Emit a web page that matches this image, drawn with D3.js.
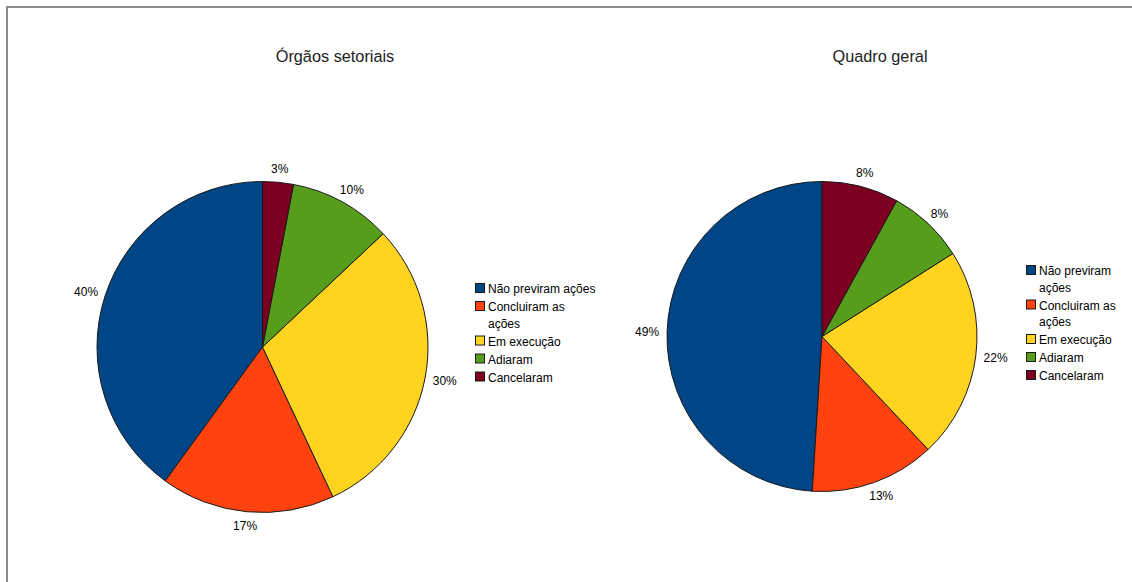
<!DOCTYPE html>
<html>
<head>
<meta charset="utf-8">
<script src="https://cdn.jsdelivr.net/npm/d3@7/dist/d3.min.js"></script>
<style>
  html, body { margin: 0; padding: 0; background: #fff; }
  svg { display: block; }
  text { font-family: "Liberation Sans", Arial, sans-serif; fill: #000; }
</style>
</head>
<body>
<svg id="chart" width="1132" height="582"></svg>
<script>
// ---- data ----
const categories = ["Não previram ações", "Concluiram as ações", "Em execução", "Adiaram", "Cancelaram"];
const colors = ["#004586", "#ff420e", "#ffd320", "#579d1c", "#7e0021"];
const titles = ["Órgãos setoriais", "Quadro geral"];
const valuesSetoriais = [40, 17, 30, 10, 3];
const valuesGeral = [49, 13, 22, 8, 8];
const legendLinesSetoriais = [["Não previram ações"], ["Concluiram as", "ações"], ["Em execução"], ["Adiaram"], ["Cancelaram"]];
const legendLinesGeral = [["Não previram", "ações"], ["Concluiram as", "ações"], ["Em execução"], ["Adiaram"], ["Cancelaram"]];

const svg = d3.select("#chart");

// frame (top and left border)
svg.append("line").attr("x1", 6).attr("y1", 7).attr("x2", 1132).attr("y2", 7)
  .attr("stroke", "#8a8a8a").attr("stroke-width", 2);
svg.append("line").attr("x1", 7).attr("y1", 6).attr("x2", 7).attr("y2", 582)
  .attr("stroke", "#8a8a8a").attr("stroke-width", 2);

const charts = [
  { title: titles[0], values: valuesSetoriais, legend: legendLinesSetoriais,
    cx: 262.5, cy: 347, r: 165.5, titleX: 335, legendX: 475, legendY: 289 },
  { title: titles[1], values: valuesGeral, legend: legendLinesGeral,
    cx: 822, cy: 336.5, r: 155, titleX: 880, legendX: 1026, legendY: 271 }
];

charts.forEach(c => {
  const g = svg.append("g");
  g.append("text").attr("x", c.titleX).attr("y", 62).attr("text-anchor", "middle")
    .attr("font-size", 16.3).style("fill", "#222").text(c.title);

  // counterclockwise from 12 o'clock
  const pie = d3.pie().sort(null).startAngle(0).endAngle(-2 * Math.PI);
  const arcs = pie(c.values);
  const arc = d3.arc().innerRadius(0).outerRadius(c.r);
  const pg = g.append("g").attr("transform", `translate(${c.cx},${c.cy})`);
  pg.selectAll("path").data(arcs).join("path")
    .attr("d", arc)
    .attr("fill", (d, i) => colors[i])
    .attr("stroke", "#1a1a1a").attr("stroke-width", 1).attr("stroke-linejoin", "round");

  // labels
  const total = d3.sum(c.values);
  arcs.forEach((d, i) => {
    const a = (d.startAngle + d.endAngle) / 2;
    const pr = c.r + 8;
    const s = Math.sin(a), co = Math.cos(a);
    const txt = Math.round(c.values[i] / total * 100) + "%";
    const t = pg.append("text").attr("font-size", 12).text(txt);
    const w = t.node().getComputedTextLength();
    const h = 12;
    const x = pr * s + s * w / 2;
    const y = -pr * co - co * h / 2;
    t.attr("x", x).attr("y", y + 4.3).attr("text-anchor", "middle");
  });

  // legend
  let y = c.legendY;
  c.legend.forEach((lines, i) => {
    g.append("rect").attr("x", c.legendX + 0.5).attr("y", y - 5.5)
      .attr("width", 9).attr("height", 9)
      .attr("fill", colors[i]).attr("stroke", "#1a1a1a").attr("stroke-width", 1);
    lines.forEach((ln, j) => {
      g.append("text").attr("x", c.legendX + 13).attr("y", y + 4.3 + j * 16.5)
        .attr("font-size", 12).text(ln);
    });
    y += 18 + (lines.length - 1) * 16.5;
  });
});
</script>
</body>
</html>
